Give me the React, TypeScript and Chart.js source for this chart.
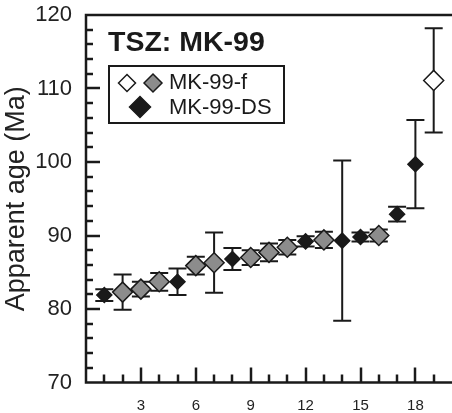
import React, { useEffect, useRef } from "react";
import { Chart, registerables } from "chart.js";

Chart.register(...registerables);

// ---- data ----
const F_SAMPLES = [2, 3, 4, 6, 7, 9, 10, 11, 13, 16];
const F_AGES = [82.3, 82.7, 83.7, 85.9, 86.3, 87.0, 87.7, 88.4, 89.4, 90.0];
const F_ERRS = [2.4, 1.0, 1.2, 1.2, 4.1, 1.0, 1.2, 1.0, 1.1, 0.8];

const F_OUT_SAMPLES = [19];
const F_OUT_AGES = [111.1];
const F_OUT_ERRS = [7.1];

const DS_SAMPLES = [1, 5, 8, 12, 14, 15, 17, 18];
const DS_AGES = [81.9, 83.7, 86.8, 89.2, 89.3, 89.8, 92.9, 99.7];
const DS_ERRS = [0.8, 1.8, 1.5, 0.7, 10.9, 0.6, 1.0, 6.0];

const X_TICKS = [3, 6, 9, 12, 15, 18];
const Y_TICKS = [70, 80, 90, 100, 110, 120];
const X_MINOR_STEP = 1;
const Y_MINOR_STEP = 2;

const TITLE = "TSZ: MK-99";
const Y_TITLE = "Apparent age (Ma)";
const LEGEND_F = "MK-99-f";
const LEGEND_DS = "MK-99-DS";

const FONT = "'Liberation Sans', Arial, Helvetica, sans-serif";
const INK = "#1a1a1a";
const GRAY = "#8c8c8c";

function toPoints(xs: number[], ys: number[]) {
  return xs.map((x, i) => ({ x, y: ys[i] }));
}

function diamond(ctx: CanvasRenderingContext2D, x: number, y: number, r: number, fill: string) {
  ctx.beginPath();
  ctx.moveTo(x - r, y);
  ctx.lineTo(x, y - r);
  ctx.lineTo(x + r, y);
  ctx.lineTo(x, y + r);
  ctx.closePath();
  ctx.fillStyle = fill;
  ctx.fill();
  ctx.lineWidth = 1.5;
  ctx.strokeStyle = INK;
  ctx.stroke();
}

const errorBars = {
  id: "errorBars",
  beforeDatasetsDraw(chart: any) {
    const { ctx, scales } = chart;
    const xs = scales.x;
    const ys = scales.y;
    ctx.save();
    ctx.strokeStyle = INK;
    ctx.lineWidth = 2;
    chart.data.datasets.forEach((ds: any) => {
      const errs: number[] = ds.errors || [];
      ds.data.forEach((p: any, i: number) => {
        const e = errs[i];
        if (!e) return;
        const px = xs.getPixelForValue(p.x);
        const top = ys.getPixelForValue(p.y + e);
        const bot = ys.getPixelForValue(p.y - e);
        const cap = 9;
        ctx.beginPath();
        ctx.moveTo(px, top);
        ctx.lineTo(px, bot);
        ctx.moveTo(px - cap, top);
        ctx.lineTo(px + cap, top);
        ctx.moveTo(px - cap, bot);
        ctx.lineTo(px + cap, bot);
        ctx.stroke();
      });
    });
    ctx.restore();
  },
};

const frame = {
  id: "frame",
  afterDatasetsDraw(chart: any) {
    const { ctx, chartArea, scales } = chart;
    const { left, right, top, bottom } = chartArea;
    const xs = scales.x;
    const ys = scales.y;
    ctx.save();
    ctx.strokeStyle = INK;
    ctx.lineCap = "butt";
    ctx.lineWidth = 2.5;
    for (let v = ys.min + Y_MINOR_STEP; v < ys.max; v += Y_MINOR_STEP) {
      const py = Math.round(ys.getPixelForValue(v));
      const major = Y_TICKS.some((t) => Math.abs(t - v) < 1e-6);
      ctx.beginPath();
      ctx.moveTo(left, py);
      ctx.lineTo(left + (major ? 14 : 7), py);
      ctx.stroke();
    }
    for (let v = xs.min + X_MINOR_STEP; v < xs.max; v += X_MINOR_STEP) {
      const px = Math.round(xs.getPixelForValue(v));
      const major = X_TICKS.some((t) => Math.abs(t - v) < 1e-6);
      ctx.beginPath();
      ctx.moveTo(px, bottom);
      ctx.lineTo(px, bottom - (major ? 15 : 8));
      ctx.stroke();
    }
    ctx.beginPath();
    ctx.moveTo(right + 2, top);
    ctx.lineTo(left, top);
    ctx.lineTo(left, bottom);
    ctx.lineTo(right + 2, bottom);
    ctx.stroke();

    // title
    ctx.fillStyle = INK;
    ctx.font = `bold 28.5px ${FONT}`;
    ctx.textAlign = "left";
    ctx.textBaseline = "alphabetic";
    ctx.fillText(TITLE, left + 22, top + 36);

    // legend
    const bx = left + 23;
    const by = top + 51;
    const bw = 175;
    const bh = 57;
    ctx.fillStyle = "#ffffff";
    ctx.fillRect(bx, by, bw, bh);
    ctx.lineWidth = 2;
    ctx.strokeRect(bx, by, bw, bh);
    diamond(ctx, bx + 18, by + 17, 8.5, "#ffffff");
    diamond(ctx, bx + 44, by + 17, 9, GRAY);
    diamond(ctx, bx + 31, by + 41, 10.5, INK);
    ctx.fillStyle = INK;
    ctx.font = `22px ${FONT}`;
    ctx.textBaseline = "middle";
    ctx.fillText(LEGEND_F, bx + 60, by + 17);
    ctx.fillText(LEGEND_DS, bx + 60, by + 42);
    ctx.restore();
  },
};

export default function App() {
  const ref = useRef<HTMLCanvasElement | null>(null);

  useEffect(() => {
    document.body.style.margin = "0";
    const canvas = ref.current;
    if (!canvas) return;
    const chart = new Chart(canvas, {
      type: "scatter",
      data: {
        datasets: [
          {
            label: LEGEND_DS,
            data: toPoints(DS_SAMPLES, DS_AGES),
            errors: DS_ERRS,
            pointStyle: "rectRot",
            pointRadius: 7.5,
            backgroundColor: INK,
            borderColor: INK,
            borderWidth: 1.5,
          } as any,
          {
            label: LEGEND_F,
            data: toPoints(F_SAMPLES, F_AGES),
            errors: F_ERRS,
            pointStyle: "rectRot",
            pointRadius: 10,
            backgroundColor: GRAY,
            borderColor: INK,
            borderWidth: 1.5,
          } as any,
          {
            label: LEGEND_F + " (excluded)",
            data: toPoints(F_OUT_SAMPLES, F_OUT_AGES),
            errors: F_OUT_ERRS,
            pointStyle: "rectRot",
            pointRadius: 10,
            backgroundColor: "#ffffff",
            borderColor: INK,
            borderWidth: 1.5,
          } as any,
        ],
      },
      options: {
        animation: false,
        responsive: false,
        maintainAspectRatio: false,
        layout: { autoPadding: false, padding: { top: 15, left: 0, right: 0, bottom: 0 } },
        plugins: { legend: { display: false }, tooltip: { enabled: false } },
        scales: {
          x: {
            type: "linear",
            min: 0,
            max: 20,
            border: { display: false },
            grid: { display: false, drawTicks: false },
            afterBuildTicks: (axis: any) => {
              axis.ticks = X_TICKS.map((v) => ({ value: v }));
            },
            afterFit: (axis: any) => {
              axis.height = 30.5;
              axis.paddingLeft = 0;
              axis.paddingRight = 0;
            },
            ticks: {
              padding: 14,
              color: "#222",
              font: { family: FONT, size: 15 },
              maxRotation: 0,
            },
          },
          y: {
            type: "linear",
            min: 70,
            max: 120,
            border: { display: false },
            grid: { display: false, drawTicks: false },
            afterBuildTicks: (axis: any) => {
              axis.ticks = Y_TICKS.map((v) => ({ value: v }));
            },
            afterFit: (axis: any) => {
              axis.width = 86;
              axis.paddingTop = 0;
              axis.paddingBottom = 0;
            },
            ticks: {
              padding: 14,
              color: "#222",
              font: { family: FONT, size: 22 },
            },
            title: {
              display: true,
              text: Y_TITLE,
              color: "#222",
              font: { family: FONT, size: 27 },
              padding: { top: 0, bottom: 4 },
            },
          },
        },
      },
      plugins: [errorBars, frame],
    } as any);
    return () => chart.destroy();
  }, []);

  return (
    <div style={{ width: 452, height: 413, overflow: "hidden" }}>
      <canvas ref={ref} width={452} height={413} style={{ display: "block" }} />
    </div>
  );
}
